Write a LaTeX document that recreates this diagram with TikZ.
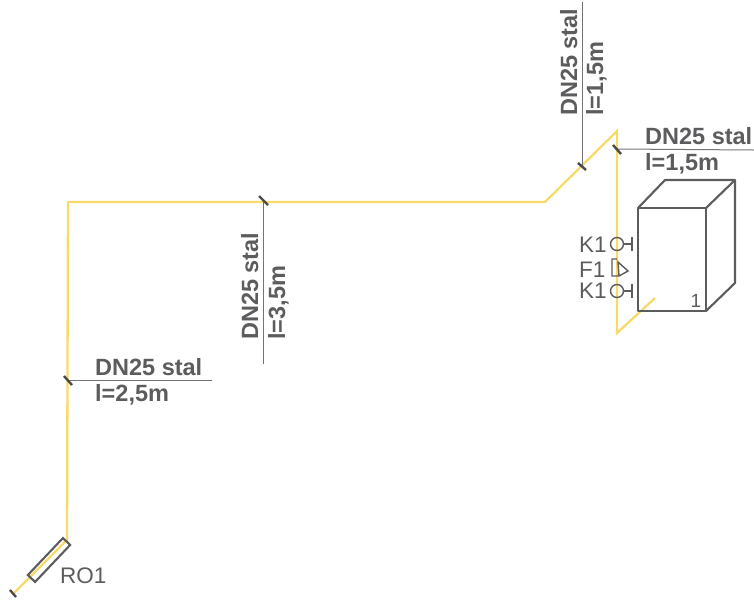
\documentclass[tikz,border=0pt]{standalone}
\usepackage{fontspec}
\setmainfont{Liberation Sans}
\definecolor{pipecol}{RGB}{248,218,105}
\definecolor{inkcol}{RGB}{92,92,94}
\tikzset{
  pipe/.style={color=pipecol,line width=2.3pt,line join=miter},
  leader/.style={color=inkcol!85,line width=1pt},
  tick/.style={color=inkcol!80!black,line width=2.4pt},
  ink/.style={color=inkcol,line width=2.1pt},
  size/.style={inner sep=0pt,text=inkcol,anchor=base west,font=\fontsize{23.5}{24}\selectfont\bfseries},
  tag/.style={inner sep=0pt,text=inkcol,anchor=base west,font=\fontsize{22.5}{24}\selectfont},
}
\begin{document}
\begin{tikzpicture}[x=1pt,y=-1pt]
\useasboundingbox (0,0) rectangle (754,600);

% pipe run
\coordinate (p0) at (14,593);
\coordinate (p1) at (67,540);
\coordinate (p2) at (68,202);
\coordinate (p3) at (545,202);
\coordinate (p4) at (617,131);
\coordinate (p5) at (617,333);
\coordinate (p6) at (655,298);
\draw[pipe] (p0) -- (p1) -- (p2) -- (p3) -- (p4) -- (p5) -- (p6);

% valve
\node(ro) at (49,560)[draw=inkcol,line width=2.1pt,rotate=46.5,minimum width=51pt,minimum height=10pt,inner sep=0pt]{};
\node(rot) at (60,583)[tag]{RO1};
\coordinate (e0a) at (10,590);
\coordinate (e0b) at (16,597);
\draw[tick] (e0a) -- (e0b);

% box
\coordinate (b1) at (638,208);
\coordinate (b2) at (706,208);
\coordinate (b3) at (706,311);
\coordinate (b4) at (638,311);
\coordinate (b5) at (665,180);
\coordinate (b6) at (735,180);
\coordinate (b7) at (735,283);
\draw[ink,line join=round] (b1) -- (b2) -- (b3) -- (b4) -- cycle;
\draw[ink,line join=round] (b1) -- (b5) -- (b6) -- (b7) -- (b3);
\draw[ink] (b2) -- (b6);
\node(boxno) at (696,301)[inner sep=0pt,text=inkcol,font=\fontsize{19}{19}\selectfont\rmfamily]{1};

% fittings
\node(k1a) at (617,244)[circle,draw=inkcol,line width=1.4pt,minimum size=13pt,inner sep=0pt]{};
\node(k1b) at (617,291)[circle,draw=inkcol,line width=1.4pt,minimum size=13pt,inner sep=0pt]{};
\coordinate (k1ae) at (632,244);
\coordinate (k1be) at (632,291);
\draw[ink,line width=1.4pt] (k1a) -- (k1ae) +(0,-7) -- +(0,7);
\draw[ink,line width=1.4pt] (k1b) -- (k1be) +(0,-7) -- +(0,7);
\node(k1at) at (579,252)[tag]{K1};
\node(f1t) at (579,277)[tag]{F1};
\node(k1bt) at (579,298)[tag]{K1};
\coordinate (f1) at (617,259);
\coordinate (f2) at (612,259);
\coordinate (f3) at (612,276);
\coordinate (f4) at (619,276);
\coordinate (f5) at (628,271);
\coordinate (f6) at (618,262);
\draw[ink,line width=1.4pt] (f1) -- (f2) -- (f3) -- (f4) -- (f5) -- (f6) -- (f4);

% labels, bottom left
\coordinate (l1) at (68,380);
\coordinate (l1e) at (212,380);
\coordinate (t1a) at (64,376);
\coordinate (t1b) at (72,385);
\draw[leader] (l1) -- (l1e);
\draw[tick] (t1a) -- (t1b);
\node(s1) at (95,375)[size]{DN25 stal};
\node(d1) at (95,401)[size]{l=2,5m};

% labels, middle
\coordinate (l2) at (263,202);
\coordinate (l2e) at (263,364);
\coordinate (t2a) at (259,196);
\coordinate (t2b) at (268,205);
\draw[leader] (l2) -- (l2e);
\draw[tick] (t2a) -- (t2b);
\node(s2) at (258,340)[size,rotate=90]{DN25 stal};
\node(d2) at (285,340)[size,rotate=90]{l=3,5m};

% labels, top
\coordinate (l3) at (582,167);
\coordinate (l3e) at (582,2);
\coordinate (t3a) at (578,163);
\coordinate (t3b) at (586,170);
\draw[leader] (l3) -- (l3e);
\draw[tick] (t3a) -- (t3b);
\node(s3) at (577,116)[size,rotate=90]{DN25 stal};
\node(d3) at (603,116)[size,rotate=90]{l=1,5m};

% labels, top right
\coordinate (l4) at (617,149);
\coordinate (l4e) at (754,150);
\coordinate (t4a) at (613,145);
\coordinate (t4b) at (621,154);
\draw[leader] (l4) -- (l4e);
\draw[tick] (t4a) -- (t4b);
\node(s4) at (645,144)[size]{DN25 stal};
\node(d4) at (645,170)[size]{l=1,5m};

\end{tikzpicture}
\end{document}
